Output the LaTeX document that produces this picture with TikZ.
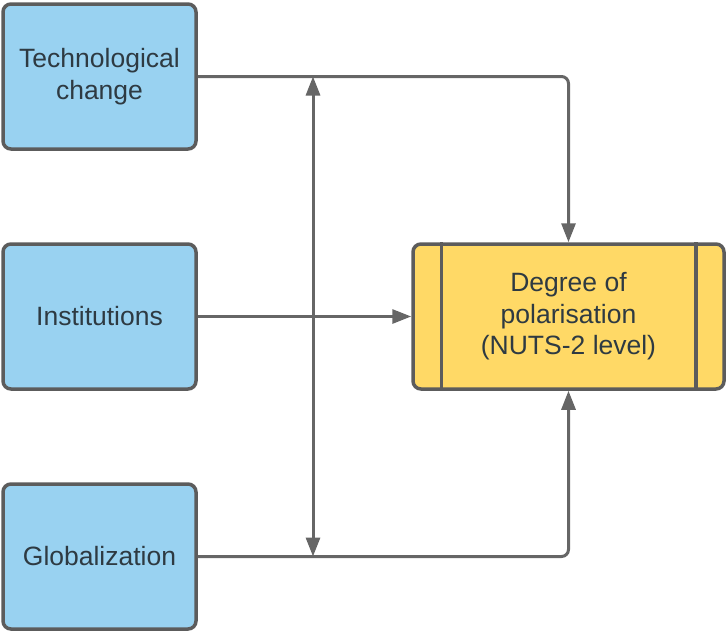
\documentclass[tikz,border=0pt]{standalone}
\usepackage{fontspec}
\setmainfont{Liberation Sans}
\usetikzlibrary{arrows.meta}
\definecolor{boxblue}{HTML}{99D2F1}
\definecolor{boxyellow}{HTML}{FFD966}
\definecolor{edgegray}{HTML}{5C5C5C}
\definecolor{linegray}{HTML}{666666}
\definecolor{txt}{HTML}{2E3A42}
\tikzset{
  factor/.style={draw=edgegray, line width=3.5pt, fill=boxblue, rounded corners=8pt,
    minimum width=193pt, minimum height=145pt, inner sep=0pt, align=center,
    text=txt, font=\fontsize{26.5}{32}\selectfont},
  outcome/.style={draw=edgegray, line width=3.5pt, fill=boxyellow, rounded corners=8pt,
    minimum width=311pt, minimum height=145pt, inner sep=0pt, align=center,
    text=txt, font=\fontsize{26.5}{31.5}\selectfont},
  conn/.style={draw=linegray, line width=3pt, rounded corners=7pt,
    -{Triangle[length=19pt,width=14pt]}},
  dconn/.style={draw=linegray, line width=3pt,
    {Triangle[length=19pt,width=14pt]}-{Triangle[length=19pt,width=14pt]}}
}
\begin{document}
\begin{tikzpicture}[x=1pt,y=-1pt]
\useasboundingbox (0,0) rectangle (727,630);
\node[factor] (tc) at (99.5,76.5) {Technological\\change};
\node[factor] (in) at (99.5,316.5) {Institutions};
\node[factor] (gl) at (99.5,556.5) {Globalization};
\node[outcome] (dp) at (568.5,316.5) {Degree of\\polarisation\\(NUTS-2 level)};
\draw[edgegray, line width=3.5pt] ([xshift=30pt]dp.north west) -- ([xshift=30pt]dp.south west);
\draw[edgegray, line width=3.5pt] ([xshift=-30pt]dp.north east) -- ([xshift=-30pt]dp.south east);
\draw[conn] (tc.east) -| (dp.north);
\draw[conn] (in.east) -- (dp.west);
\draw[conn] (gl.east) -| (dp.south);
\coordinate (vt) at (313,76.5);
\coordinate (vb) at (313,556.5);
\draw[dconn] (vb) -- (vt);
\end{tikzpicture}
\end{document}
